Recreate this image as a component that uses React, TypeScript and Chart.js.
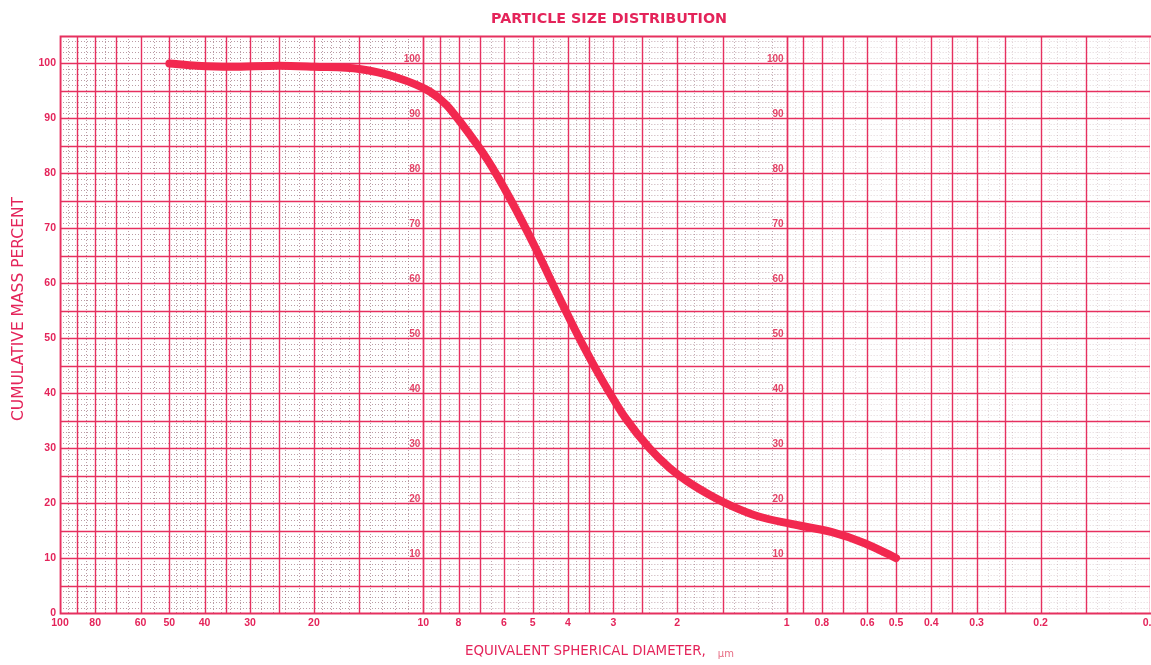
import React, { useEffect, useRef } from "react";
import { Chart, registerables } from "chart.js";

Chart.register(...registerables);

// ---- data ----
const diameters = [50, 42, 34, 25, 20, 15, 11.9, 9.6, 8.65, 7.9, 6.65, 5.75, 4.9, 4.3, 3.9, 3.6, 3.3, 3.1, 2.78, 2.38, 2.1, 1.88, 1.6, 1.42, 1.2, 0.97, 0.75, 0.61, 0.5];
const cumulative = [100, 99.6, 99.4, 99.6, 99.4, 99.0, 97.5, 94.9, 92.5, 89.3, 82.4, 75.2, 66.3, 58.4, 52.7, 48.2, 43.6, 40.5, 35.5, 29.9, 26.4, 24.0, 21.2, 19.5, 17.6, 16.2, 14.7, 12.7, 10];

const xTickValues = [100, 80, 60, 50, 40, 30, 20, 10, 8, 6, 5, 4, 3, 2, 1, 0.8, 0.6, 0.5, 0.4, 0.3, 0.2, 0.1];
const xTickLabels = ["100", "80", "60", "50", "40", "30", "20", "10", "8", "6", "5", "4", "3", "2", "1", "0.8", "0.6", "0.5", "0.4", "0.3", "0.2", "0.1"];
const yTickValues = [0, 10, 20, 30, 40, 50, 60, 70, 80, 90, 100];
const innerYTickValues = [10, 20, 30, 40, 50, 60, 70, 80, 90, 100];
const innerLabelColumns = [10, 1];

const decadeBases = [10, 1, 0.1];
const majorRel = [1, 1.5, 2, 2.5, 3, 3.5, 4, 5, 6, 7, 8, 9, 10];
const minorRanges = [
  [1, 2, 0.1],
  [2, 5, 0.2],
  [5, 10, 0.5],
];
const decadeDotAlpha = [0.6, 0.5, 0.25];

const TITLE = "PARTICLE SIZE DISTRIBUTION";
const Y_TITLE = "CUMULATIVE MASS PERCENT";
const X_TITLE = "EQUIVALENT SPHERICAL DIAMETER,";
const X_UNIT = "\u00b5m";

const RED = "#e4245a";
const GRID = "#e6305f";
const CURVE = "#f2284f";

const paperPlugin = {
  id: "paper",
  beforeDatasetsDraw(chart: any) {
    const { ctx, chartArea: a, scales } = chart;
    const xs = scales.x;
    const ys = scales.y;
    const crisp = (v: number) => Math.round(v) + 0.5;
    ctx.save();
    ctx.beginPath();
    ctx.rect(a.left, a.top, a.right - a.left, a.bottom - a.top);
    ctx.clip();

    decadeBases.forEach((d, di) => {
      const xl = xs.getPixelForValue(d * 10);
      const xr = xs.getPixelForValue(d);
      ctx.strokeStyle = `rgba(140,90,105,${decadeDotAlpha[di]})`;
      ctx.lineWidth = 1;
      ctx.setLineDash([1, 2]);
      for (let v = 1; v < 105; v++) {
        if (v % 5 === 0) continue;
        const y = crisp(ys.getPixelForValue(v));
        ctx.beginPath();
        ctx.moveTo(xl, y);
        ctx.lineTo(xr, y);
        ctx.stroke();
      }
      minorRanges.forEach(([s, e, st]) => {
        const n = Math.round((e - s) / st);
        for (let i = 1; i < n; i++) {
          const rel = s + i * st;
          if (majorRel.some((m) => Math.abs(m - rel) < 1e-6)) continue;
          const x = crisp(xs.getPixelForValue(rel * d));
          ctx.beginPath();
          ctx.moveTo(x, a.top);
          ctx.lineTo(x, a.bottom);
          ctx.stroke();
        }
      });
    });

    ctx.setLineDash([]);
    ctx.strokeStyle = GRID;
    ctx.lineWidth = 1.4;
    for (let v = 5; v < 105; v += 5) {
      const y = crisp(ys.getPixelForValue(v));
      ctx.beginPath();
      ctx.moveTo(a.left, y);
      ctx.lineTo(a.right, y);
      ctx.stroke();
    }
    decadeBases.forEach((d) => {
      majorRel.forEach((m) => {
        const x = crisp(xs.getPixelForValue(m * d));
        ctx.beginPath();
        ctx.moveTo(x, a.top);
        ctx.lineTo(x, a.bottom);
        ctx.stroke();
      });
    });
    ctx.restore();

    ctx.save();
    ctx.strokeStyle = GRID;
    ctx.lineWidth = 1.8;
    ctx.beginPath();
    ctx.moveTo(a.right + 2, crisp(a.top));
    ctx.lineTo(crisp(a.left), crisp(a.top));
    ctx.lineTo(crisp(a.left), crisp(a.bottom));
    ctx.lineTo(a.right + 2, crisp(a.bottom));
    ctx.stroke();
    ctx.restore();
  },
  afterDraw(chart: any) {
    const { ctx, chartArea: a, scales } = chart;
    const xs = scales.x;
    const ys = scales.y;
    ctx.save();
    ctx.fillStyle = RED;
    ctx.font = 'bold 14.3px "DejaVu Sans", sans-serif';
    ctx.textAlign = "center";
    ctx.textBaseline = "middle";
    ctx.fillText(TITLE, 609, 19);

    ctx.font = 'bold 10.5px "Liberation Sans", Arial, sans-serif';
    ctx.textAlign = "right";
    yTickValues.forEach((v) => {
      ctx.fillText(String(v), a.left - 4, ys.getPixelForValue(v));
    });

    ctx.textAlign = "center";
    xTickValues.forEach((v, i) => {
      ctx.fillText(xTickLabels[i], xs.getPixelForValue(v), a.bottom + 10);
    });

    ctx.fillStyle = "rgba(225,45,85,0.9)";
    ctx.font = 'bold 10px "Liberation Sans", Arial, sans-serif';
    ctx.textAlign = "right";
    innerLabelColumns.forEach((c) => {
      const x = xs.getPixelForValue(c) - 3;
      innerYTickValues.forEach((v) => {
        ctx.fillText(String(v), x, ys.getPixelForValue(v) - 4);
      });
    });

    ctx.fillStyle = RED;
    ctx.font = '15.5px "DejaVu Sans", sans-serif';
    ctx.save();
    ctx.translate(19, 309);
    ctx.rotate(-Math.PI / 2);
    ctx.textAlign = "center";
    ctx.fillText(Y_TITLE, 0, 0);
    ctx.restore();

    ctx.font = '13.4px "DejaVu Sans", sans-serif';
    ctx.textAlign = "left";
    ctx.fillText(X_TITLE, 465, 652);
    const w = ctx.measureText(X_TITLE).width;
    ctx.font = '10px "DejaVu Sans", sans-serif';
    ctx.fillStyle = "rgba(225,70,100,0.8)";
    ctx.fillText(X_UNIT, 465 + w + 12, 654);
    ctx.restore();
  },
};

export default function App() {
  const ref = useRef<HTMLCanvasElement | null>(null);
  useEffect(() => {
    document.body.style.margin = "0";
    document.body.style.background = "#ffffff";
    if (!ref.current) return;
    const points = diameters.map((d, i) => ({ x: d, y: cumulative[i] }));
    const chart = new Chart(ref.current, {
      type: "line",
      data: {
        datasets: [
          {
            data: points,
            borderColor: CURVE,
            borderWidth: 8,
            pointRadius: 0,
            cubicInterpolationMode: "monotone",
            borderCapStyle: "round",
            borderJoinStyle: "round",
            fill: false,
          },
        ],
      },
      options: {
        animation: false,
        responsive: false,
        devicePixelRatio: 1,
        layout: { padding: { left: 60, right: 1, top: 36, bottom: 52 } },
        plugins: { legend: { display: false }, tooltip: { enabled: false } },
        scales: {
          x: { type: "logarithmic", min: 0.1, max: 100, reverse: true, display: false },
          y: { type: "linear", min: 0, max: 105, display: false },
        },
      },
      plugins: [paperPlugin],
    } as any);
    return () => chart.destroy();
  }, []);
  return (
    <div style={{ width: 1151, height: 665 }}>
      <canvas ref={ref} width={1151} height={665} style={{ display: "block" }} />
    </div>
  );
}
